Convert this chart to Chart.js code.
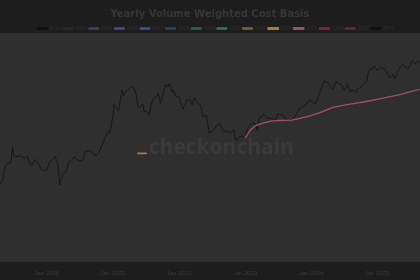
<!DOCTYPE html>
<html lang="en">
<head>
  <meta charset="UTF-8" />
  <title>Yearly Volume Weighted Cost Basis</title>
  <script src="https://cdn.jsdelivr.net/npm/chart.js"></script>
  <style>
    html, body { margin: 0; padding: 0; background: #1d1d1d; }
    #wrap { width: 420px; height: 280px; }
  </style>
</head>
<body>
  <div id="wrap"><canvas id="vwcb"></canvas></div>

  <script>
    // legend entries (one per series)
    const seriesNames = ['Price', '2014', '2015', '2016', '2017', '2018', '2019', '2020',
                         '2021', '2022', '2023', '2024', '2025', 'ATH'];
    const seriesColors = ['#111111', '#2b2b2b', '#463f5c', '#524684', '#3a5692', '#2a4665',
                          '#2b6549', '#387559', '#736639', '#86572a', '#a84a69', '#852a39',
                          '#652a46', '#111111'];

    // BTC price, approx. readings
    const priceDates = [
      '2019-04-15','2019-05-01','2019-05-15','2019-06-01','2019-06-15','2019-06-26','2019-07-01','2019-07-15',
      '2019-08-01','2019-08-15','2019-09-01','2019-09-15','2019-10-01','2019-10-15','2019-10-26','2019-11-01',
      '2019-11-15','2019-12-01','2019-12-15',
      '2020-01-01','2020-01-15','2020-02-01','2020-02-15','2020-03-01','2020-03-12','2020-03-15','2020-04-01',
      '2020-04-15','2020-05-01','2020-05-15','2020-06-01','2020-06-15','2020-07-01','2020-07-15','2020-08-01',
      '2020-08-15','2020-09-01','2020-09-15','2020-10-01','2020-10-15','2020-11-01','2020-11-15','2020-12-01',
      '2020-12-15',
      '2021-01-01','2021-01-08','2021-01-15','2021-02-01','2021-02-15','2021-02-21','2021-03-01','2021-03-15',
      '2021-04-01','2021-04-14','2021-05-01','2021-05-12','2021-05-19','2021-06-01','2021-06-15','2021-06-22',
      '2021-07-01','2021-07-20','2021-08-01','2021-08-15','2021-09-01','2021-09-07','2021-09-21','2021-10-01',
      '2021-10-20','2021-11-01','2021-11-10','2021-11-26','2021-12-01','2021-12-15',
      '2022-01-01','2022-01-22','2022-02-01','2022-02-15','2022-03-01','2022-03-15','2022-03-28','2022-04-15',
      '2022-05-01','2022-05-12','2022-06-01','2022-06-18','2022-07-01','2022-07-15','2022-08-01','2022-08-15',
      '2022-09-01','2022-09-15','2022-10-01','2022-10-15','2022-11-01','2022-11-09','2022-11-21','2022-12-01',
      '2022-12-15',
      '2023-01-01','2023-01-15','2023-02-01','2023-02-15','2023-03-01','2023-03-10','2023-03-20','2023-04-01',
      '2023-04-14','2023-05-01','2023-05-15','2023-06-01','2023-06-15','2023-07-01','2023-07-15','2023-08-01',
      '2023-08-17','2023-09-01','2023-09-15','2023-10-01','2023-10-24','2023-11-01','2023-11-15','2023-12-01',
      '2023-12-15',
      '2024-01-01','2024-01-22','2024-02-01','2024-02-15','2024-03-01','2024-03-13','2024-04-01','2024-04-15',
      '2024-05-01','2024-05-20','2024-06-01','2024-06-15','2024-07-05','2024-07-20','2024-08-05','2024-08-15',
      '2024-09-06','2024-09-15','2024-10-01','2024-10-15','2024-11-01','2024-11-13','2024-11-22','2024-12-01',
      '2024-12-17',
      '2025-01-01','2025-01-20','2025-02-01','2025-02-15','2025-03-01','2025-03-10','2025-04-01','2025-04-08',
      '2025-05-01','2025-05-22','2025-06-01','2025-06-22','2025-07-01','2025-07-14','2025-08-01','2025-08-14',
      '2025-08-24'
    ];
    const priceValues = [
      5100, 5400, 8000, 8600, 8800, 12900, 10600, 10200,
      10400, 10300, 9700, 10300, 8300, 8300, 9500, 9200,
      8500, 7400, 7100,
      7200, 8800, 9400, 10200, 8500, 4900, 5400, 6600,
      6900, 8800, 9300, 10200, 9400, 9200, 9200, 11800,
      11800, 11900, 10800, 10600, 11500, 13800, 16000, 19200,
      19400,
      29400, 40000, 36800, 33500, 48700, 57500, 49600, 55600,
      59000, 63500, 57800, 49000, 37000, 36700, 40200, 32500,
      33500, 29800, 39900, 47000, 48800, 52700, 40600, 48200,
      66000, 61300, 67500, 54000, 57000, 48900,
      47700, 35000, 38500, 44500, 44400, 39300, 47100, 40500,
      38500, 29000, 29800, 19000, 19300, 20800, 23300, 24100,
      20100, 19700, 19300, 19100, 20500, 15900, 15800, 17000,
      17400,
      16600, 20900, 23700, 24300, 23600, 20200, 28000, 28400,
      30500, 28000, 27200, 27200, 25600, 30600, 30300, 29700,
      26600, 25900, 26600, 27900, 34500, 35400, 37800, 38700,
      42200,
      44200, 39500, 43000, 51900, 62400, 73100, 69700, 63400,
      58200, 71400, 67700, 66200, 56700, 67100, 54000, 57500,
      53900, 59200, 61000, 67000, 69500, 90000, 98900, 97200,
      106000,
      94400, 102000, 100600, 97500, 86000, 78500, 85000, 76300,
      96500, 111600, 105500, 101000, 106000, 122000, 113000, 123500,
      114000
    ];

    // 2023 cost basis line
    const basis2023Dates = ['2023-01-01','2023-02-01','2023-03-01','2023-04-15','2023-06-01','2023-07-15',
                            '2023-09-15','2023-11-01','2024-01-01','2024-03-01','2024-05-01','2024-07-01',
                            '2024-09-01','2024-11-01','2025-01-01','2025-03-01','2025-05-01','2025-07-01',
                            '2025-08-24'];
    const basis2023Values = [16500, 20500, 22800, 24500, 25800, 26000, 26200, 27500, 29500, 32500,
                             36500, 38800, 40500, 42500, 44800, 47500, 50500, 54500, 58000];

    // short 2022 segment
    const basis2022Dates = ['2021-05-15', '2021-07-07'];
    const basis2022Values = [11100, 11100];

    const xTickYears = [2020, 2021, 2022, 2023, 2024, 2025];

    function decYear(s) {
      const d = new Date(s + 'T00:00:00Z');
      const y = d.getUTCFullYear();
      const start = Date.UTC(y, 0, 1);
      return y + (d - start) / (365.25 * 86400000);
    }
    function toPoints(dates, vals) {
      return dates.map((d, i) => ({ x: decYear(d), y: vals[i] }));
    }

    const datasets = seriesNames.map((name, i) => ({
      label: name,
      data: [],
      borderColor: seriesColors[i],
      backgroundColor: seriesColors[i],
      borderWidth: 1,
      pointRadius: 0,
      tension: 0
    }));
    datasets[0].data = toPoints(priceDates, priceValues);
    datasets[0].borderWidth = 0.8;
    datasets[10].data = toPoints(basis2023Dates, basis2023Values);
    datasets[10].borderColor = '#a54c6a';
    datasets[10].borderWidth = 1.3;
    datasets[9].data = toPoints(basis2022Dates, basis2022Values);
    datasets[9].borderColor = '#a87a3e';
    datasets[9].borderWidth = 1.6;
    datasets.reverse(); // price drawn on top

    const plotBg = {
      id: 'plotBg',
      beforeLayout(chart) {
        // squeeze the legend row a bit
        const lg = chart.legend;
        if (lg && !lg._squeezed) {
          const fit = lg.fit.bind(lg);
          lg.fit = function () { fit(); this.height -= 5; };
          lg._squeezed = true;
        }
      },
      afterLayout(chart) {
        // legend sits a little right of centre and lower in the original
        chart.legend.left += 5;
        chart.legend.right += 5;
        chart.legend.top += 3;
        chart.legend.bottom += 3;
      },
      beforeDraw(chart) {
        const { ctx, chartArea: a } = chart;
        ctx.save();
        ctx.fillStyle = '#2f2f2f';
        ctx.fillRect(a.left, a.top, a.right - a.left, a.bottom - a.top);
        ctx.font = 'bold 21px "Open Sans", sans-serif';
        ctx.fillStyle = '#3a3a3a';
        ctx.textAlign = 'center';
        ctx.textBaseline = 'middle';
        ctx.fillText('checkonchain', a.left + (a.right - a.left) * 0.527, 148);
        ctx.restore();
      }
    };

    new Chart(document.getElementById('vwcb'), {
      type: 'line',
      data: { datasets },
      plugins: [plotBg],
      options: {
        responsive: true,
        maintainAspectRatio: false,
        animation: false,
        layout: { padding: { top: 0, left: 0, right: 0, bottom: 3 } },
        plugins: {
          title: {
            display: true,
            text: 'Yearly Volume Weighted Cost Basis',
            color: '#363636',
            font: { size: 10, weight: 'bold', family: 'DejaVu Sans' },
            padding: { top: 8, bottom: 1 }
          },
          legend: {
            reverse: true,
            labels: {
              color: '#2f2f2f',
              boxWidth: 10,
              boxHeight: 1.5,
              padding: 2,
              font: { size: 5 }
            }
          },
          tooltip: { enabled: false }
        },
        scales: {
          x: {
            type: 'linear',
            min: 2019.29,
            max: 2025.65,
            grid: { display: false },
            border: { display: false },
            ticks: {
              includeBounds: false,
              stepSize: 1,
              color: '#3a3a3a',
              font: { size: 6 },
              padding: 0,
              maxRotation: 0,
              callback: v => xTickYears.includes(Math.round(v * 1000) / 1000) ? 'Jan ' + v : ''
            }
          },
          y: {
            type: 'logarithmic',
            display: false,
            min: 673,
            max: 250000
          }
        }
      }
    });
  </script>
</body>
</html>
